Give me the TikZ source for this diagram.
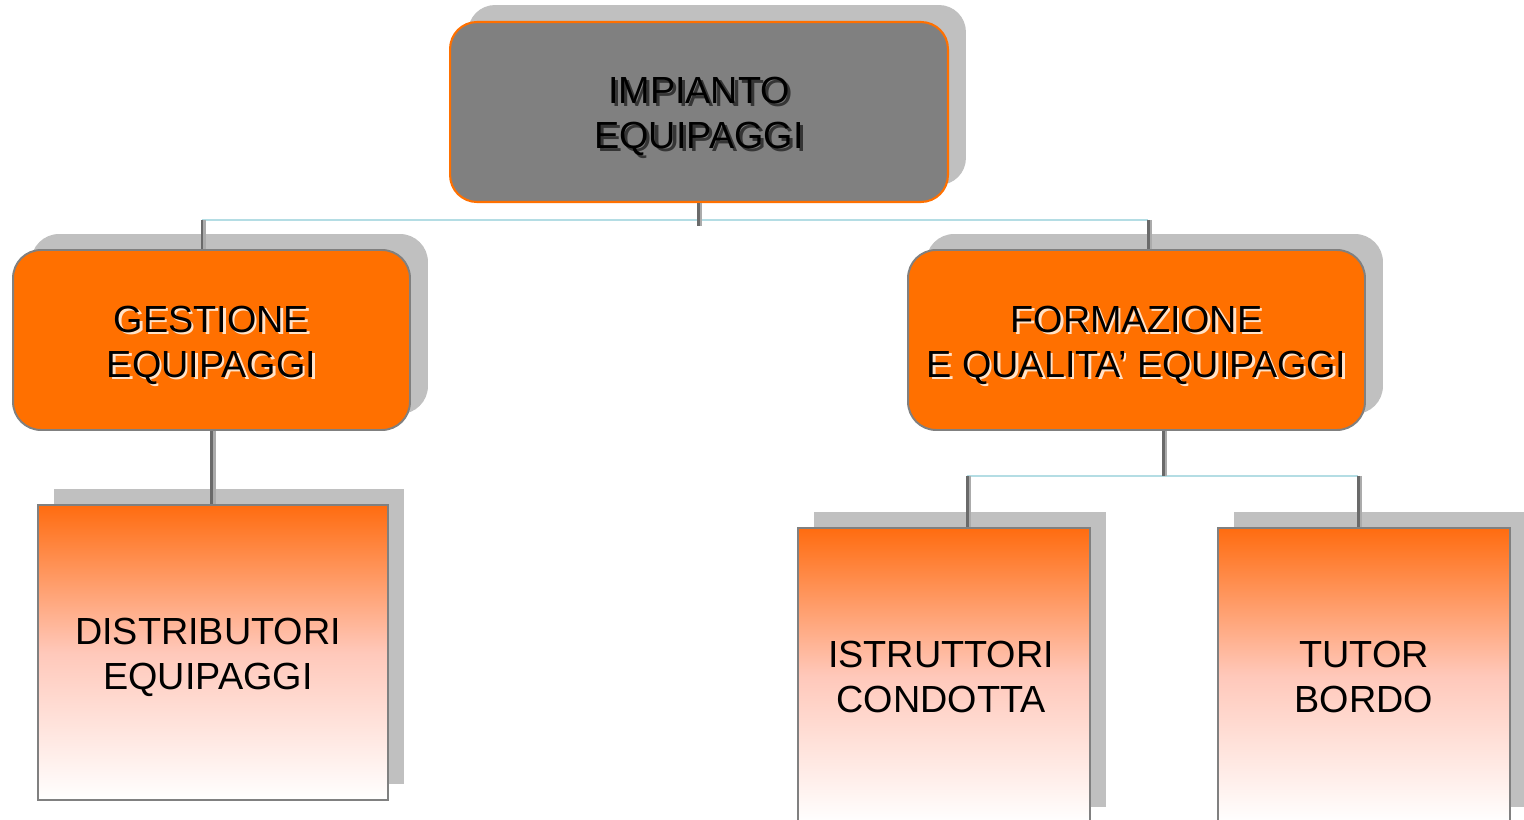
\documentclass[tikz,border=0pt]{standalone}
\usepackage{fontspec}
\setmainfont{Liberation Sans}
\usetikzlibrary{shadows,calc}

\definecolor{boxorange}{HTML}{FF7000}
\definecolor{boxgray}{HTML}{808080}
\definecolor{shadegray}{HTML}{C0C0C0}
\definecolor{linkblue}{HTML}{B4DDE4}
\definecolor{stemdark}{HTML}{6A6A6A}
\definecolor{stemlight}{HTML}{ABABAB}
\definecolor{fadeorange}{HTML}{FF6C10}
\definecolor{fadepink}{HTML}{FFC8BA}
\definecolor{glowpale}{HTML}{FFE2C8}
\definecolor{glowdark}{HTML}{353535}

\begin{document}
\begin{tikzpicture}[x=0.02cm, y=-0.02cm,
    lbl/.style={font=\fontsize{21.5}{25.6}\selectfont, align=center, inner sep=0pt},
    headbox/.style={rectangle, rounded corners=0.54cm, fill=boxgray, draw=boxorange, line width=1.2pt,
      minimum width=9.96cm, minimum height=3.6cm,
      drop shadow={shadow xshift=0.36cm, shadow yshift=0.34cm, fill=shadegray, opacity=1}},
    midbox/.style={rectangle, rounded corners=0.56cm, fill=boxorange, draw=boxgray, line width=1.1pt,
      minimum height=3.6cm,
      drop shadow={shadow xshift=0.36cm, shadow yshift=0.32cm, fill=shadegray, opacity=1}},
    leafbox/.style={rectangle, draw=boxgray, line width=1.1pt,
      top color=fadeorange, bottom color=white, middle color=fadepink,
      minimum height=5.9cm,
      drop shadow={shadow xshift=0.32cm, shadow yshift=0.32cm, fill=shadegray, opacity=1}},
    stem/.style={draw=stemdark, line width=1.7pt,
      preaction={draw=stemlight, line width=1.7pt, transform canvas={xshift=1.6pt}}},
    link/.style={draw=linkblue, line width=1.1pt}]

    \useasboundingbox (0,0) rectangle (1524,820);
    \clip (0,0) rectangle (1524,820);

    % boxes
    \node[headbox] (top) at (699,112) {};
    \node[midbox, minimum width=7.94cm] (gest) at (211.5,340) {};
    \node[midbox, minimum width=9.14cm] (form) at (1136.5,340) {};
    \node[leafbox, minimum width=7.0cm] (distr) at (213,652.5) {};
    \node[leafbox, minimum width=5.84cm] (istr) at (944,675.5) {};
    \node[leafbox, minimum width=5.84cm] (tutor) at (1364,675.5) {};

    % labels (the first of each pair is the text shadow)
    \node[lbl, text=glowdark] (topS) at ([xshift=1.8pt, yshift=-4.3pt]top.center) {IMPIANTO\\EQUIPAGGI};
    \node[lbl] (topL) at ([yshift=-2.5pt]top.center) {IMPIANTO\\EQUIPAGGI};
    \node[lbl, text=glowpale] (gestS) at ([xshift=1.4pt, yshift=-4.4pt]gest.center) {GESTIONE\\EQUIPAGGI};
    \node[lbl] (gestL) at ([yshift=-3pt]gest.center) {GESTIONE\\EQUIPAGGI};
    \node[lbl, text=glowpale] (formS) at ([xshift=1.4pt, yshift=-4.4pt]form.center) {FORMAZIONE\\E QUALITA’ EQUIPAGGI};
    \node[lbl] (formL) at ([yshift=-3pt]form.center) {FORMAZIONE\\E QUALITA’ EQUIPAGGI};
    \node[lbl] (distrL) at ([xshift=-0.1cm, yshift=-3pt]distr.center) {DISTRIBUTORI\\EQUIPAGGI};
    \node[lbl] (istrL) at ([xshift=-0.06cm, yshift=-1pt]istr.center) {ISTRUTTORI\\CONDOTTA};
    \node[lbl] (tutorL) at ([yshift=-1pt]tutor.center) {TUTOR\\BORDO};

    % connectors
    \coordinate (hubA) at (698,226);
    \coordinate (jA1) at (202,220);
    \coordinate (jA2) at (1148,220);
    \coordinate (hubB) at (1163,476);
    \coordinate (jB1) at (967,476);
    \coordinate (jB2) at (1358,476);

    \draw[link] (jA1) -- (jA2);
    \draw[stem] (top.south -| hubA) -- (hubA);
    \draw[stem] (jA1) -- (jA1 |- gest.north);
    \draw[stem] (jA2) -- (jA2 |- form.north);
    \draw[stem] (gest.south) -- (gest.south |- distr.north);

    \draw[link] (jB1) -- (jB2);
    \draw[stem] (form.south -| hubB) -- (hubB);
    \draw[stem] (jB1) -- (jB1 |- istr.north);
    \draw[stem] (jB2) -- (jB2 |- tutor.north);
\end{tikzpicture}
\end{document}
